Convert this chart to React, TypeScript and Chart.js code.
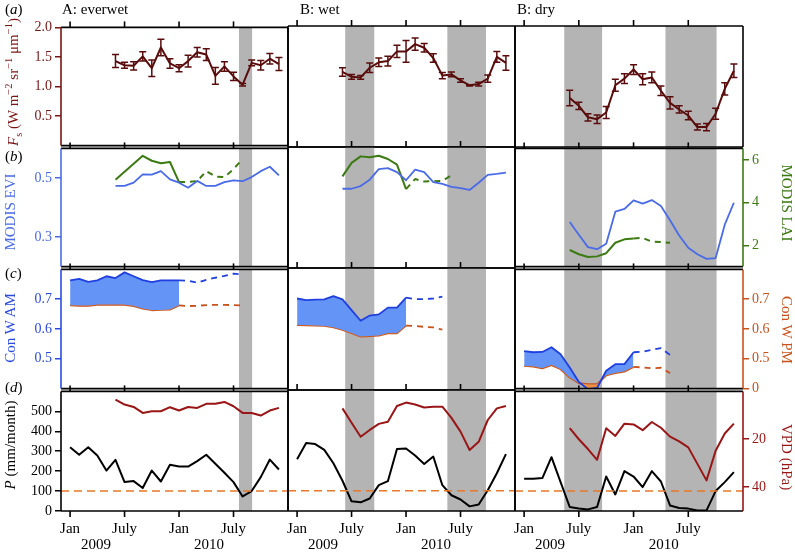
import React, { useEffect, useRef } from "react";
import { Chart, registerables } from "chart.js";

Chart.register(...registerables);

const SERIF = '"Liberation Serif", "Times New Roman", Times, serif';

// ---------- time axis (month index, 0 = Jan 2009) ----------
const monthTicks = [0, 6, 12, 18];
const monthTickLabels = ["Jan", "July", "Jan", "July"];
const yearLabels = ["2009", "2010"];
const yearLabelMonths = [2.85, 15.3];
const X_MIN = -1;
const X_MAX = 24;

const columnTitles = ["A: everwet", "B: wet", "B: dry"];
const panelLetters = ["a", "b", "c", "d"];

// dry-season shading, [start, end] in months
const dryBandsEverwet = [[18.6, 20.05]];
const dryBandsWet = [[5.3, 8.5], [16.55, 20.8]];
const dryBandsDry = [[4.4, 8.55], [15.5, 21.1]];

const span = (a: number, b: number) => Array.from({ length: b - a + 1 }, (_, i) => a + i);

// ---------- (a) Fs ----------
const fsMonths = span(5, 23);
const fsEverwet = [1.43, 1.36, 1.35, 1.51, 1.31, 1.66, 1.39, 1.31, 1.43, 1.58, 1.54, 1.18, 1.34, 1.17, 1.03, 1.40, 1.36, 1.47, 1.38];
const fsEverwetErr = [0.11, 0.05, 0.07, 0.08, 0.14, 0.14, 0.08, 0.06, 0.1, 0.08, 0.1, 0.14, 0.08, 0.07, 0.02, 0.05, 0.08, 0.09, 0.11];
const fsWet = [1.24, 1.16, 1.15, 1.31, 1.40, 1.42, 1.58, 1.58, 1.70, 1.64, 1.47, 1.18, 1.20, 1.10, 1.02, 1.04, 1.13, 1.49, 1.39];
const fsWetErr = [0.07, 0.04, 0.03, 0.08, 0.07, 0.08, 0.1, 0.18, 0.1, 0.07, 0.07, 0.05, 0.04, 0.03, 0.01, 0.03, 0.06, 0.09, 0.12];
const fsDry = [0.81, 0.68, 0.49, 0.46, 0.57, 1.02, 1.13, 1.28, 1.12, 1.15, 0.93, 0.73, 0.62, 0.52, 0.33, 0.33, 0.55, 0.96, 1.26];
const fsDryErr = [0.13, 0.06, 0.06, 0.07, 0.1, 0.1, 0.08, 0.08, 0.09, 0.09, 0.08, 0.1, 0.06, 0.07, 0.05, 0.06, 0.09, 0.1, 0.11];
const fsTicks = [0.5, 1.0, 1.5, 2.0];
const fsTickLabels = ["0.5", "1.0", "1.5", "2.0"];

// ---------- (b) MODIS EVI / LAI ----------
const eviMonths = span(5, 23);
const eviEverwet = [0.473, 0.473, 0.484, 0.512, 0.511, 0.523, 0.495, 0.484, 0.467, 0.49, 0.473, 0.473, 0.486, 0.492, 0.489, 0.503, 0.523, 0.538, 0.509];
const eviWet = [0.462, 0.462, 0.471, 0.492, 0.527, 0.530, 0.517, 0.49, 0.525, 0.517, 0.484, 0.478, 0.468, 0.464, 0.458, 0.482, 0.508, 0.511, 0.515];
const eviDry = [0.351, 0.308, 0.266, 0.259, 0.277, 0.386, 0.395, 0.424, 0.413, 0.425, 0.405, 0.357, 0.305, 0.264, 0.242, 0.226, 0.229, 0.342, 0.416];
const eviTicks = [0.3, 0.5];
const eviTickLabels = ["0.3", "0.5"];

const laiEverwetMonths = [5, 8, 9, 10, 11, 12];
const laiEverwet = [5.08, 6.2, 5.97, 5.85, 5.91, 4.97];
const laiEverwetGapMonths = span(12, 19);
const laiEverwetGap = [4.97, 4.97, 5.02, 5.48, 5.23, 5.2, 5.58, 6.05];
const laiWetMonths = span(5, 12);
const laiWet = [5.2, 5.82, 6.12, 6.08, 6.15, 6.0, 5.74, 4.62];
const laiWetGapMonths = span(12, 17);
const laiWetGap = [4.62, 5.08, 4.97, 4.98, 5.0, 5.25];
const laiDryMonths = span(5, 12);
const laiDry = [1.78, 1.58, 1.45, 1.48, 1.63, 2.12, 2.28, 2.32];
const laiDryGapMonths = span(12, 16);
const laiDryGap = [2.32, 2.35, 2.17, 2.15, 2.12];
const laiTicks = [2, 4, 6];
const laiTickLabels = ["2", "4", "6"];

// ---------- (c) Con W AM / PM ----------
const conwMonths = span(0, 12);
const amEverwet = [0.763, 0.768, 0.758, 0.763, 0.777, 0.771, 0.79, 0.777, 0.764, 0.757, 0.763, 0.763, 0.763];
const pmEverwet = [0.679, 0.678, 0.678, 0.681, 0.681, 0.681, 0.681, 0.677, 0.668, 0.663, 0.664, 0.665, 0.679];
const conwEverwetGapMonths = span(12, 19);
const amEverwetGap = [0.763, 0.762, 0.755, 0.765, 0.772, 0.778, 0.786, 0.783];
const pmEverwetGap = [0.679, 0.677, 0.678, 0.68, 0.681, 0.681, 0.68, 0.679];
const amWet = [0.700, 0.695, 0.696, 0.697, 0.708, 0.697, 0.662, 0.627, 0.644, 0.648, 0.670, 0.670, 0.703];
const pmWet = [0.613, 0.612, 0.611, 0.610, 0.605, 0.597, 0.586, 0.575, 0.577, 0.578, 0.586, 0.586, 0.611];
const conwWetGapMonths = span(12, 16);
const amWetGap = [0.703, 0.698, 0.698, 0.700, 0.706];
const pmWetGap = [0.611, 0.610, 0.607, 0.605, 0.598];
const amDry = [0.526, 0.522, 0.523, 0.539, 0.515, 0.471, 0.422, 0.398, 0.402, 0.460, 0.482, 0.482, 0.522];
const pmDry = [0.476, 0.474, 0.468, 0.479, 0.465, 0.437, 0.418, 0.415, 0.415, 0.444, 0.452, 0.457, 0.473];
const conwDryGapMonths = span(12, 16);
const amDryGap = [0.522, 0.524, 0.530, 0.536, 0.513];
const pmDryGap = [0.473, 0.471, 0.468, 0.470, 0.452];
const amTicks = [0.5, 0.6, 0.7];
const amTickLabels = ["0.5", "0.6", "0.7"];
const pmTicks = [0.4, 0.5, 0.6, 0.7];
const pmTickLabels = ["0", "0.5", "0.6", "0.7"];

// ---------- (d) P / VPD ----------
const pMonths = span(0, 23);
const pEverwet = [320, 282, 320, 278, 203, 257, 145, 150, 115, 203, 148, 232, 223, 223, 250, 282, 237, 192, 145, 73, 100, 170, 258, 208];
const pWet = [257, 337, 332, 303, 237, 150, 48, 43, 62, 128, 148, 307, 310, 275, 233, 270, 128, 78, 57, 23, 32, 103, 187, 282];
const pDry = [162, 162, 165, 270, 145, 20, 12, 8, 20, 173, 83, 200, 173, 120, 200, 148, 28, 15, 12, 3, 3, 100, 145, 195];
const vpdMonths = span(5, 23);
const vpdEverwet = [3.4, 5.5, 6.5, 9.0, 8.3, 8.3, 6.6, 8.0, 6.5, 6.9, 5.2, 5.2, 4.4, 6.2, 9.0, 9.0, 10.1, 8.0, 6.9];
const vpdWet = [7.6, 13.5, 19.3, 16.5, 14.0, 13.1, 6.6, 5.2, 6.0, 7.2, 6.9, 6.9, 11.5, 17.2, 24.8, 21.4, 12.4, 7.6, 6.6];
const vpdDry = [15.4, 20.0, 24.1, 28.6, 15.4, 18.6, 13.5, 13.8, 16.2, 12.8, 15.2, 18.9, 20.9, 23.4, 30.3, 37.2, 24.8, 17.6, 13.5];
const pThreshold = 100;
const pTicks = [0, 100, 200, 300, 400, 500];
const pTickLabels = ["0", "100", "200", "300", "400", "500"];
const vpdTicks = [20, 40];
const vpdTickLabels = ["20", "40"];

// ---------- styling ----------
const FS = "#5a0c0c";
const FS_AXIS = "#7a1515";
const EVI = "#4a6be8";
const LAI = "#3c7a12";
const AM = "#1f3fe0";
const AM_AXIS = "#2b4be0";
const AM_FILL = "#6494f6";
const PM = "#c9521c";
const PM_FILL = "#ee9040";
const VPD = "#9a1515";
const REF = "#e8782a";
const BAND = "#b4b4b4";

const COL_L = [61, 288, 515];
const COL_R = [288, 515, 743];
const ROW_T = [26, 147, 268, 390];
const ROW_B = [147, 268, 390, 511];
const PAD_L = 45;
const PAD_R = 45;
const PAD_T = 10;
const PAD_B = 10;
const PAD_B_LAST = 42;

const pts = (months: number[], vals: number[]) => vals.map((v, i) => ({ x: months[i], y: v }));

function line(data: any[], color: string, width: number, axis: string, dash?: number[], extra?: any) {
  return {
    data,
    borderColor: color,
    borderWidth: width,
    pointRadius: 0,
    tension: 0,
    fill: false,
    yAxisID: axis,
    borderDash: dash || [],
    borderJoinStyle: "round",
    ...(extra || {}),
  };
}

const COLS = [
  {
    bands: dryBandsEverwet, fs: fsEverwet, fsErr: fsEverwetErr, evi: eviEverwet,
    laiM: laiEverwetMonths, lai: laiEverwet, laiGM: laiEverwetGapMonths, laiG: laiEverwetGap,
    am: amEverwet, pm: pmEverwet, cgM: conwEverwetGapMonths, amG: amEverwetGap, pmG: pmEverwetGap,
    p: pEverwet, vpd: vpdEverwet,
  },
  {
    bands: dryBandsWet, fs: fsWet, fsErr: fsWetErr, evi: eviWet,
    laiM: laiWetMonths, lai: laiWet, laiGM: laiWetGapMonths, laiG: laiWetGap,
    am: amWet, pm: pmWet, cgM: conwWetGapMonths, amG: amWetGap, pmG: pmWetGap,
    p: pWet, vpd: vpdWet,
  },
  {
    bands: dryBandsDry, fs: fsDry, fsErr: fsDryErr, evi: eviDry,
    laiM: laiDryMonths, lai: laiDry, laiGM: laiDryGapMonths, laiG: laiDryGap,
    am: amDry, pm: pmDry, cgM: conwDryGapMonths, amG: amDryGap, pmG: pmDryGap,
    p: pDry, vpd: vpdDry,
  },
];

const ROWS: any[] = [
  { left: { min: 0, max: 2.0, ticks: fsTicks, labels: fsTickLabels, color: FS_AXIS }, right: null, rightFrame: "#000" },
  { left: { min: 0.2, max: 0.6, ticks: eviTicks, labels: eviTickLabels, color: EVI }, right: { min: 1.0, max: 6.55, ticks: laiTicks, labels: laiTickLabels, color: LAI }, rightFrame: LAI },
  { left: { min: 0.4, max: 0.8, ticks: amTicks, labels: amTickLabels, color: AM_AXIS }, right: { min: 0.4, max: 0.8, ticks: pmTicks, labels: pmTickLabels, color: PM }, rightFrame: PM },
  { left: { min: 0, max: 600, ticks: pTicks, labels: pTickLabels, color: "#000" }, right: { min: 0, max: 50, reverse: true, ticks: vpdTicks, labels: vpdTickLabels, color: VPD }, rightFrame: VPD },
];

function yScale(spec: any, position: string, show: boolean, width: number) {
  return {
    type: "linear",
    position,
    min: spec.min,
    max: spec.max,
    reverse: !!spec.reverse,
    display: show,
    afterBuildTicks: (s: any) => {
      s.ticks = spec.ticks.map((v: number) => ({ value: v }));
    },
    afterFit: (s: any) => {
      s.width = show ? width : 0;
    },
    ticks: {
      color: spec.color,
      font: { family: SERIF, size: 14 },
      padding: 3,
      callback: (_v: any, i: number) => spec.labels[i],
    },
    grid: { display: true, drawOnChartArea: false, drawTicks: true, tickLength: 6, color: spec.color, lineWidth: 1.5 },
    border: { display: false },
  };
}

function buildConfig(r: number, c: number): any {
  const col = COLS[c];
  const row = ROWS[r];
  const last = r === 3;
  const showLeft = c === 0;
  const showRight = c === 2 && !!row.right;

  let datasets: any[] = [];
  let errBars: any = null;
  if (r === 0) {
    datasets = [line(pts(fsMonths, col.fs), FS, 2, "y")];
    errBars = { months: fsMonths, vals: col.fs, errs: col.fsErr };
  } else if (r === 1) {
    datasets = [
      line(pts(eviMonths, col.evi), EVI, 1.8, "y"),
      line(pts(col.laiM, col.lai), LAI, 2, "y2"),
      line(pts(col.laiGM, col.laiG), LAI, 2, "y2", [6, 5]),
    ];
  } else if (r === 2) {
    datasets = [
      line(pts(conwMonths, col.am), AM, 1.8, "y", undefined, { fill: { target: 1, above: AM_FILL, below: PM_FILL } }),
      line(pts(conwMonths, col.pm), PM, 1.8, "y"),
      line(pts(col.cgM, col.amG), AM, 1.8, "y", [6, 5]),
      line(pts(col.cgM, col.pmG), PM, 1.8, "y", [6, 5]),
    ];
  } else {
    datasets = [
      line([{ x: X_MIN, y: pThreshold }, { x: X_MAX, y: pThreshold }], REF, 1.5, "y", [8, 5]),
      line(pts(pMonths, col.p), "#000", 2, "y"),
      line(pts(vpdMonths, col.vpd), VPD, 2, "y2"),
    ];
  }

  const scales: any = {
    x: {
      type: "linear",
      min: X_MIN,
      max: X_MAX,
      display: last,
      afterBuildTicks: (s: any) => {
        s.ticks = monthTicks.map((v) => ({ value: v }));
      },
      afterFit: (s: any) => {
        s.height = last ? PAD_B_LAST : 0;
      },
      ticks: {
        color: "#000",
        font: { family: SERIF, size: 15 },
        padding: 1,
        maxRotation: 0,
        autoSkip: false,
        callback: (_v: any, i: number) => monthTickLabels[i],
      },
      grid: { display: false },
      border: { display: false },
    },
    y: yScale(row.left, "left", showLeft, PAD_L),
  };
  if (row.right) scales.y2 = yScale(row.right, "right", showRight, PAD_R);

  const leftFrame = c === 0 ? row.left.color : "#000";
  const rightFrame = c === 2 ? row.rightFrame : "#000";

  const deco = {
    id: "panelDeco",
    beforeDatasetsDraw(chart: any) {
      const { ctx, chartArea: a } = chart;
      const x = chart.scales.x;
      ctx.save();
      ctx.fillStyle = BAND;
      for (const [s, e] of col.bands) {
        const x0 = x.getPixelForValue(s);
        const x1 = x.getPixelForValue(e);
        ctx.fillRect(x0, a.top, x1 - x0, a.bottom - a.top);
      }
      ctx.restore();
    },
    afterDatasetsDraw(chart: any) {
      if (!errBars) return;
      const { ctx } = chart;
      const x = chart.scales.x;
      const y = chart.scales.y;
      ctx.save();
      ctx.strokeStyle = FS;
      ctx.lineWidth = 1.5;
      errBars.vals.forEach((v: number, i: number) => {
        const px = x.getPixelForValue(errBars.months[i]);
        const y0 = y.getPixelForValue(v - errBars.errs[i]);
        const y1 = y.getPixelForValue(v + errBars.errs[i]);
        ctx.beginPath();
        ctx.moveTo(px, y0);
        ctx.lineTo(px, y1);
        ctx.moveTo(px - 3.5, y0);
        ctx.lineTo(px + 3.5, y0);
        ctx.moveTo(px - 3.5, y1);
        ctx.lineTo(px + 3.5, y1);
        ctx.stroke();
      });
      ctx.restore();
    },
    afterDraw(chart: any) {
      const { ctx, chartArea: a } = chart;
      const x = chart.scales.x;
      ctx.save();
      ctx.lineWidth = 1.6;
      const seg = (color: string, x0: number, y0: number, x1: number, y1: number) => {
        ctx.strokeStyle = color;
        ctx.beginPath();
        ctx.moveTo(x0, y0);
        ctx.lineTo(x1, y1);
        ctx.stroke();
      };
      seg("#000", a.left, a.top, a.right, a.top);
      seg("#000", a.left, a.bottom, a.right, a.bottom);
      seg(leftFrame, a.left, a.top, a.left, a.bottom);
      seg(rightFrame, a.right, a.top, a.right, a.bottom);
      for (const m of monthTicks) {
        const px = x.getPixelForValue(m);
        seg("#000", px, a.top, px, a.top - 6);
        if (last) seg("#000", px, a.bottom, px, a.bottom + 6);
      }
      if (last) {
        ctx.fillStyle = "#000";
        ctx.font = `15px ${SERIF}`;
        ctx.textAlign = "center";
        ctx.textBaseline = "middle";
        yearLabels.forEach((t, i) => {
          ctx.fillText(t, x.getPixelForValue(yearLabelMonths[i]), a.bottom + 34);
        });
      }
      ctx.restore();
    },
  };

  return {
    type: "line",
    data: { datasets },
    options: {
      responsive: false,
      animation: false,
      events: [],
      layout: {
        padding: {
          left: showLeft ? 0 : PAD_L,
          right: showRight ? 0 : PAD_R,
          top: PAD_T,
          bottom: last ? 0 : PAD_B,
        },
      },
      scales,
      plugins: { legend: { display: false }, tooltip: { enabled: false } },
    },
    plugins: [deco],
  };
}

const sup = (t: string) => (
  <sup style={{ fontSize: "0.7em", verticalAlign: "0.5em", lineHeight: 0 }}>{t}</sup>
);

export default function App() {
  const refs = useRef<(HTMLCanvasElement | null)[]>([]);

  useEffect(() => {
    const charts: any[] = [];
    for (let r = 0; r < 4; r++) {
      for (let c = 0; c < 3; c++) {
        const cv = refs.current[r * 3 + c];
        if (cv) charts.push(new Chart(cv, buildConfig(r, c)));
      }
    }
    return () => charts.forEach((ch) => ch.destroy());
  }, []);

  const canvases: any[] = [];
  for (let r = 0; r < 4; r++) {
    for (let c = 0; c < 3; c++) {
      const w = COL_R[c] - COL_L[c] + PAD_L + PAD_R;
      const h = ROW_B[r] - ROW_T[r] + PAD_T + (r === 3 ? PAD_B_LAST : PAD_B);
      canvases.push(
        <canvas
          key={`${r}-${c}`}
          ref={(el) => {
            refs.current[r * 3 + c] = el;
          }}
          width={w}
          height={h}
          style={{ position: "absolute", left: COL_L[c] - PAD_L, top: ROW_T[r] - PAD_T, width: w, height: h }}
        />
      );
    }
  }

  const base: any = { position: "absolute", fontFamily: SERIF, fontSize: 15, lineHeight: 1, whiteSpace: "nowrap" };
  const rotL = (x: number, y: number, color: string): any => ({
    ...base, left: x, top: y, color, transform: "translate(-50%, -50%) rotate(-90deg)",
  });
  const rotR = (x: number, y: number, color: string): any => ({
    ...base, left: x, top: y, color, transform: "translate(-50%, -50%) rotate(90deg)",
  });

  const letterY = [9, 156, 273, 387];
  const titleX = [62, 300, 517];

  return (
    <div style={{ position: "absolute", left: 0, top: 0, width: 795, height: 553, background: "#fff", overflow: "hidden" }}>
      {canvases}
      {panelLetters.map((l, i) => (
        <div key={l} style={{ ...base, left: 5, top: letterY[i], transform: "translateY(-50%)" }}>
          (<i>{l}</i>)
        </div>
      ))}
      {columnTitles.map((t, i) => (
        <div key={t} style={{ ...base, left: titleX[i], top: 9, transform: "translateY(-50%)" }}>
          {t}
        </div>
      ))}
      <div style={rotL(13, 82, FS_AXIS)}>
        <i>F</i>
        <sub style={{ fontSize: "0.7em", lineHeight: 0 }}>s</sub> (W m{sup("−2")} sr{sup("−1")} μm{sup("−1")})
      </div>
      <div style={rotL(10, 212, EVI)}>MODIS EVI</div>
      <div style={rotL(10, 328, AM_AXIS)}>Con W AM</div>
      <div style={rotL(10, 445, "#000")}>
        <i>P</i> (mm/month)
      </div>
      <div style={rotR(786, 203, LAI)}>MODIS LAI</div>
      <div style={rotR(786, 330, PM)}>Con W PM</div>
      <div style={rotR(786, 457, VPD)}>VPD (hPa)</div>
    </div>
  );
}
